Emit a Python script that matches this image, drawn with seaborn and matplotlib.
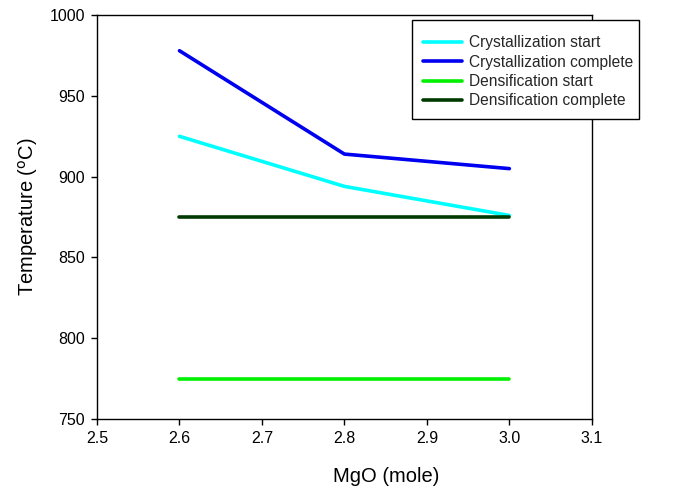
import matplotlib
matplotlib.use("Agg")
import matplotlib.pyplot as plt
from matplotlib.path import Path
import seaborn as sns
import pandas as pd

mgo = [2.6, 2.8, 3.0]
cryst_start = [925, 894, 876]
cryst_complete = [978, 914, 905]
dens_start = [775, 775, 775]
dens_complete = [875, 875, 875]

series_names = ["Crystallization start", "Crystallization complete",
                "Densification start", "Densification complete"]
series_vals = [cryst_start, cryst_complete, dens_start, dens_complete]
colors = ["#00FFFF", "#0000F0", "#00F000", "#003A00"]

rows = []
for name, vals in zip(series_names, series_vals):
    for x, y in zip(mgo, vals):
        rows.append({"MgO": x, "T": y, "series": name})
df = pd.DataFrame(rows)

sns.set_style("ticks")
plt.rcParams['font.family'] = ['Liberation Sans', 'DejaVu Sans']

fig = plt.figure(figsize=(6.85, 4.9), dpi=100)
ax = fig.add_axes([0.1416, 0.145, 0.864 - 0.1416, 0.969 - 0.145])
sns.lineplot(data=df, x="MgO", y="T", hue="series", hue_order=series_names,
             palette=colors, linewidth=2.6, ax=ax, legend=True)

ax.set_xlim(2.5, 3.1)
ax.set_ylim(750, 1000)
ax.set_xticks([2.5, 2.6, 2.7, 2.8, 2.9, 3.0, 3.1])
ax.set_xticklabels(["2.5", "2.6", "2.7", "2.8", "2.9", "3.0", "3.1"])
ax.set_yticks([750, 800, 850, 900, 950, 1000])
ax.tick_params(axis="both", labelsize=11.5, direction="out", length=4.5, width=1,
               pad=4, colors="black")
ax.set_xlabel("MgO (mole)", fontsize=14.5, color="black")
ax.set_ylabel("Temperature ($^{\\rm o}$C)", fontsize=14.5, color="black")
ax.xaxis.set_label_coords(0.584, -0.118)
ax.yaxis.set_label_coords(-0.116, 0.5)
for s in ax.spines.values():
    s.set_visible(True)
    s.set_linewidth(1.0)
    s.set_color("black")


def vpad_box(x0, y0, width, height, mutation_size):
    top = 4.5
    bottom = 0.0
    right = -5
    return Path([(x0, y0 - bottom), (x0 + width + right, y0 - bottom),
                 (x0 + width + right, y0 + height + top),
                 (x0, y0 + height + top), (x0, y0 - bottom)], closed=True)


handles, labels = ax.get_legend_handles_labels()
leg = ax.legend(handles, labels, loc="upper left", bbox_to_anchor=(0.6015, 0.95),
                bbox_transform=fig.transFigure, fontsize=11.2, frameon=True, fancybox=False,
                edgecolor="black", framealpha=1, handlelength=2.5,
                borderpad=0.7, labelspacing=0.28, handletextpad=0.45, borderaxespad=0)
leg.get_frame().set_linewidth(1.0)
leg.get_frame().set_boxstyle(vpad_box)

fig.savefig("out.png", dpi=100)
